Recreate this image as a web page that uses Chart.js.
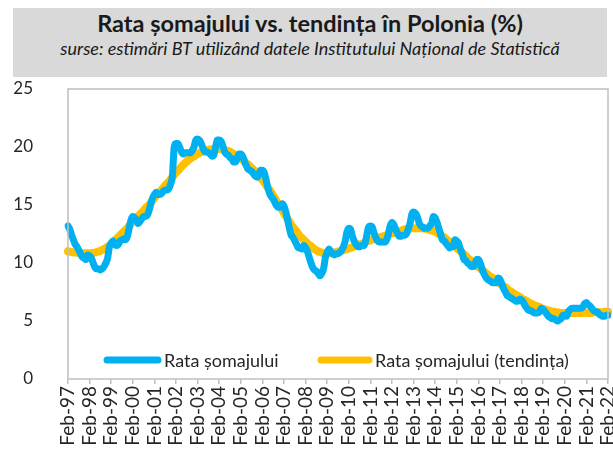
<!DOCTYPE html>
<html lang="ro">
<head>
<meta charset="UTF-8">
<title>Rata somajului vs. tendinta in Polonia</title>
<script src="https://cdn.jsdelivr.net/npm/chart.js"></script>
<style>
    body {
        margin: 0;
        background: #FFFFFF;
        font-family: Lato, "Noto Sans", sans-serif;
    }
    #wrap {
        position: relative;
        width: 613px;
        height: 449px;
    }
    #header {
        position: absolute;
        left: 13px;
        top: 8px;
        width: 594px;
        height: 69px;
        background: #D9D9D9;
        text-align: center;
        color: #1A1A1A;
    }
    #header .t {
        font-weight: bold;
        font-size: 23.5px;
        margin-top: 1px;
        line-height: 28px;
    }
    #header .s {
        font-style: italic;
        font-size: 18px;
        line-height: 22px;
    }
    #chartCanvas {
        position: absolute;
        left: 0;
        top: 0;
    }
</style>
</head>
<body>
<div id="wrap">
    <canvas id="chartCanvas" width="613" height="449"></canvas>
    <div id="header">
        <div class="t">Rata șomajului vs. tendința în Polonia (%)</div>
        <div class="s">surse: estimări BT utilizând datele Institutului Național de Statistică</div>
    </div>
</div>

<script>
    // monthly series, Feb-97 .. Feb-22 (one row per calendar year)
    const monthNames = ['Jan', 'Feb', 'Mar', 'Apr', 'May', 'Jun', 'Jul', 'Aug', 'Sep', 'Oct', 'Nov', 'Dec'];
    const firstYear = 1997;
    const lastYear = 2022;

    const rate = [
        13.2, 12.9, 12.4, 12.0, 11.6, 11.4, 11.1, 10.8, 10.5, 10.4, 10.3,          // 1997 (from Feb)
        10.7, 10.6, 10.4, 10.0, 9.6, 9.5, 9.5, 9.4, 9.5, 9.7, 10.0, 10.4,          // 1998
        11.4, 11.7, 11.9, 11.6, 11.5, 11.6, 11.9, 12.0, 12.1, 12.0, 12.3, 13.0,    // 1999
        13.7, 14.0, 13.9, 13.7, 13.4, 13.6, 13.8, 14.0, 14.0, 14.1, 14.5, 15.1,    // 2000
        15.6, 15.9, 16.1, 15.9, 15.9, 16.0, 16.2, 16.3, 16.3, 16.4, 16.8, 17.5,    // 2001
        20.0, 20.3, 20.3, 20.0, 19.6, 19.4, 19.5, 19.5, 19.5, 19.5, 19.7, 20.0,    // 2002
        20.6, 20.7, 20.6, 20.3, 19.9, 19.6, 19.6, 19.5, 19.4, 19.2, 19.3, 20.0,    // 2003
        20.6, 20.6, 20.5, 20.1, 19.6, 19.4, 19.3, 19.1, 19.0, 18.7, 18.7, 19.0,    // 2004
        19.4, 19.4, 19.2, 18.8, 18.4, 18.1, 18.0, 17.9, 17.7, 17.5, 17.4, 17.6,    // 2005
        18.0, 18.0, 17.8, 17.2, 16.5, 16.0, 15.7, 15.5, 15.2, 14.9, 14.8, 14.8,    // 2006
        15.1, 14.9, 14.4, 13.7, 13.0, 12.4, 12.2, 11.9, 11.6, 11.3, 11.3, 11.2,    // 2007
        11.5, 11.3, 11.0, 10.5, 10.0, 9.6, 9.4, 9.3, 9.1, 8.9, 9.1, 9.5,           // 2008
        10.5, 10.9, 11.2, 11.0, 10.8, 10.7, 10.8, 10.8, 10.9, 11.1, 11.4, 11.9,    // 2009
        12.7, 13.0, 12.9, 12.3, 11.9, 11.6, 11.4, 11.4, 11.5, 11.5, 11.7, 12.4,    // 2010
        13.1, 13.2, 13.1, 12.6, 12.2, 11.9, 11.8, 11.8, 11.8, 11.8, 12.0, 12.5,    // 2011
        13.2, 13.5, 13.3, 12.9, 12.6, 12.3, 12.3, 12.4, 12.4, 12.5, 12.9, 13.4,    // 2012
        14.2, 14.4, 14.3, 14.0, 13.5, 13.2, 13.1, 13.0, 13.0, 13.0, 13.2, 13.4,    // 2013
        14.0, 13.9, 13.5, 13.0, 12.5, 12.0, 11.9, 11.7, 11.5, 11.3, 11.4, 11.4,    // 2014
        12.0, 11.9, 11.7, 11.2, 10.8, 10.3, 10.2, 10.0, 9.9, 9.7, 9.7, 9.8,        // 2015
        10.3, 10.3, 10.0, 9.5, 9.1, 8.8, 8.6, 8.5, 8.4, 8.3, 8.3, 8.3,             // 2016
        8.7, 8.6, 8.2, 7.8, 7.5, 7.2, 7.1, 7.0, 6.9, 6.8, 6.7, 6.7,                // 2017
        6.9, 6.8, 6.6, 6.3, 6.1, 5.9, 5.9, 5.8, 5.7, 5.7, 5.7, 5.8,                // 2018
        6.1, 6.0, 5.8, 5.6, 5.4, 5.3, 5.2, 5.2, 5.1, 5.0, 5.1, 5.2,                // 2019
        5.5, 5.5, 5.4, 5.8, 6.0, 6.1, 6.1, 6.1, 6.1, 6.1, 6.1, 6.2,                // 2020
        6.5, 6.6, 6.4, 6.3, 6.1, 5.9, 5.8, 5.8, 5.6, 5.5, 5.4, 5.4,                // 2021
        5.5, 5.5                                                                    // 2022
    ];

    const trend = [
        11.0, 10.98, 10.95, 10.92, 10.9, 10.88, 10.86, 10.85, 10.84, 10.83, 10.83,        // 1997 (from Feb)
        10.83, 10.84, 10.85, 10.87, 10.9, 10.94, 10.99, 11.05, 11.12, 11.2, 11.3, 11.4,   // 1998
        11.5, 11.65, 11.8, 11.95, 12.1, 12.25, 12.4, 12.55, 12.7, 12.85, 13.0, 13.2,      // 1999
        13.4, 13.6, 13.75, 13.9, 14.05, 14.2, 14.35, 14.5, 14.7, 14.85, 15.0, 15.2,       // 2000
        15.4, 15.6, 15.8, 15.95, 16.1, 16.3, 16.5, 16.7, 16.85, 17.0, 17.2, 17.4,         // 2001
        17.6, 17.8, 17.95, 18.1, 18.3, 18.45, 18.6, 18.75, 18.9, 19.0, 19.1, 19.2,        // 2002
        19.3, 19.4, 19.5, 19.55, 19.6, 19.65, 19.7, 19.75, 19.8, 19.8, 19.85, 19.85,      // 2003
        19.85, 19.85, 19.8, 19.8, 19.75, 19.7, 19.65, 19.6, 19.5, 19.4, 19.3, 19.2,       // 2004
        19.1, 19.0, 18.9, 18.75, 18.6, 18.5, 18.35, 18.2, 18.05, 17.9, 17.7, 17.5,        // 2005
        17.35, 17.15, 16.95, 16.7, 16.5, 16.3, 16.05, 15.8, 15.55, 15.3, 15.05, 14.8,     // 2006
        14.55, 14.3, 14.05, 13.8, 13.55, 13.3, 13.1, 12.9, 12.7, 12.5, 12.3, 12.15,       // 2007
        12.0, 11.85, 11.7, 11.55, 11.45, 11.3, 11.2, 11.1, 11.0, 10.95, 10.9, 10.85,      // 2008
        10.85, 10.85, 10.85, 10.85, 10.9, 10.9, 10.95, 11.0, 11.0, 11.05, 11.1, 11.15,    // 2009
        11.2, 11.25, 11.3, 11.35, 11.4, 11.5, 11.55, 11.6, 11.65, 11.7, 11.8, 11.85,      // 2010
        11.9, 11.95, 12.0, 12.05, 12.1, 12.15, 12.2, 12.25, 12.3, 12.35, 12.4, 12.45,     // 2011
        12.5, 12.55, 12.6, 12.65, 12.7, 12.75, 12.8, 12.85, 12.9, 12.9, 12.95, 12.95,     // 2012
        13.0, 13.0, 13.0, 13.0, 13.0, 13.0, 13.0, 12.95, 12.95, 12.9, 12.85, 12.8,        // 2013
        12.75, 12.7, 12.6, 12.5, 12.4, 12.3, 12.2, 12.05, 11.95, 11.8, 11.7, 11.55,       // 2014
        11.45, 11.3, 11.15, 11.0, 10.9, 10.75, 10.6, 10.45, 10.3, 10.2, 10.05, 9.9,       // 2015
        9.8, 9.65, 9.55, 9.4, 9.3, 9.15, 9.05, 8.9, 8.8, 8.7, 8.55, 8.45,                 // 2016
        8.35, 8.25, 8.1, 8.0, 7.9, 7.8, 7.65, 7.55, 7.45, 7.35, 7.25, 7.15,               // 2017
        7.05, 6.95, 6.85, 6.8, 6.7, 6.6, 6.5, 6.45, 6.35, 6.3, 6.25, 6.2,                 // 2018
        6.1, 6.05, 6.0, 5.95, 5.9, 5.85, 5.8, 5.8, 5.75, 5.75, 5.7, 5.7,                  // 2019
        5.7, 5.7, 5.7, 5.7, 5.7, 5.7, 5.7, 5.7, 5.7, 5.7, 5.7, 5.7,                       // 2020
        5.7, 5.7, 5.7, 5.7, 5.7, 5.75, 5.75, 5.75, 5.75, 5.75, 5.75, 5.8,                 // 2021
        5.8, 5.8                                                                          // 2022
    ];

    const yTicks = [0, 5, 10, 15, 20, 25];
    const seriesNames = ['Rata șomajului', 'Rata șomajului (tendința)'];
    const seriesColors = ['#00B0F0', '#FFC000'];

    // month labels Feb-97 .. Feb-22
    const labels = [];
    for (let y = firstYear; y <= lastYear; y++) {
        for (let m = 0; m < 12; m++) {
            if (y === firstYear && m < 1) continue;
            if (y === lastYear && m > 1) break;
            labels.push(monthNames[m] + '-' + String(y).slice(2));
        }
    }

    const textColor = '#262626';
    const axisColor = '#BFBFBF';
    const fontFamily = 'Lato, "Noto Sans", sans-serif';

    // frame round the plot area + legend inside it
    const framePlugin = {
        id: 'frameAndLegend',
        afterDraw(chart) {
            const { ctx, chartArea } = chart;
            ctx.save();
            ctx.strokeStyle = axisColor;
            ctx.lineWidth = 1.5;
            ctx.strokeRect(chartArea.left, chartArea.top, chartArea.width, chartArea.height);

            const legendY = chartArea.bottom - 19;
            const items = [
                { x: chartArea.left + 36, len: 57 },
                { x: chartArea.left + 250, len: 54 }
            ];
            ctx.font = '18px ' + fontFamily;
            ctx.textBaseline = 'middle';
            ctx.lineCap = 'round';
            items.forEach((it, i) => {
                ctx.strokeStyle = seriesColors[i];
                ctx.lineWidth = 7;
                ctx.beginPath();
                ctx.moveTo(it.x + 3, legendY);
                ctx.lineTo(it.x + it.len - 3, legendY);
                ctx.stroke();
                ctx.fillStyle = textColor;
                ctx.fillText(seriesNames[i], it.x + it.len + 3, legendY + 1);
            });
            ctx.restore();
        }
    };

    const chart = new Chart(document.getElementById('chartCanvas').getContext('2d'), {
        type: 'line',
        data: {
            labels: labels,
            datasets: [
                {
                    label: seriesNames[0],
                    data: rate,
                    borderColor: seriesColors[0],
                    borderWidth: 7,
                    pointRadius: 0,
                    tension: 0.4,
                    cubicInterpolationMode: 'monotone',
                    borderCapStyle: 'round',
                    borderJoinStyle: 'round'
                },
                {
                    label: seriesNames[1],
                    data: trend,
                    borderColor: seriesColors[1],
                    borderWidth: 8,
                    pointRadius: 0,
                    tension: 0.4,
                    cubicInterpolationMode: 'monotone',
                    borderCapStyle: 'round',
                    borderJoinStyle: 'round'
                }
            ]
        },
        options: {
            responsive: false,
            animation: false,
            events: [],
            layout: {
                padding: { top: 89, right: 5, left: 0, bottom: 0 }
            },
            plugins: {
                legend: { display: false },
                tooltip: { enabled: false }
            },
            scales: {
                x: {
                    type: 'category',
                    offset: false,
                    grid: {
                        display: true,
                        drawOnChartArea: false,
                        drawTicks: true,
                        tickLength: 5,
                        color: axisColor,
                        lineWidth: 1.5
                    },
                    border: { display: false },
                    ticks: {
                        autoSkip: false,
                        maxRotation: 90,
                        minRotation: 90,
                        padding: 2,
                        color: textColor,
                        font: { family: fontFamily, size: 19 },
                        callback: function (val, idx) {
                            return idx % 12 === 0 ? labels[idx] : null;
                        }
                    },
                    afterFit: function (scale) {
                        scale.height = 70;
                        scale.paddingLeft = 0;
                        scale.paddingRight = 0;
                    }
                },
                y: {
                    min: 0,
                    max: 25,
                    afterBuildTicks: function (scale) {
                        scale.ticks = yTicks.map(v => ({ value: v }));
                    },
                    grid: { display: false },
                    border: { display: false },
                    ticks: {
                        padding: 27,
                        color: textColor,
                        font: { family: fontFamily, size: 17 }
                    },
                    afterFit: function (scale) {
                        scale.width = 68;
                    }
                }
            }
        },
        plugins: [framePlugin]
    });
</script>
</body>
</html>
